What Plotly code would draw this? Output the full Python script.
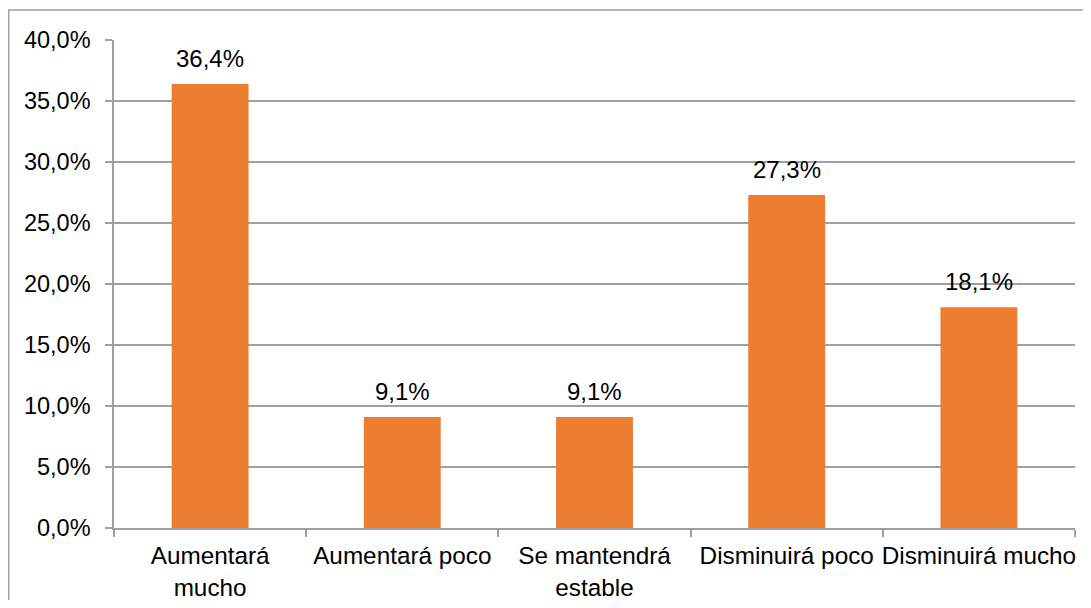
import plotly.graph_objects as go

categorias = ["Aumentará<br>mucho", "Aumentará poco", "Se mantendrá<br>estable",
              "Disminuirá poco", "Disminuirá mucho"]
valores = [0.364, 0.091, 0.091, 0.273, 0.181]

naranja = "#ED7D31"
gris = "#A0A0A0"

fig = go.Figure()
fig.add_trace(go.Bar(x=categorias, y=valores, marker=dict(color=naranja, line=dict(width=0)),
                     width=0.4, showlegend=False))

# etiquetas de datos sobre cada barra
for c, v in zip(categorias, valores):
    fig.add_annotation(x=c, y=v, text=f"{v * 100:.1f}%".replace(".", ","), showarrow=False,
                       yanchor="bottom", yshift=10, font=dict(size=24, color="#000000"))

# la página tiene 8 px de margen en el body
W, H = 1083, 592
l, r, t, b = 106, 16, 32, 72
pw, ph = W - l - r, H - t - b

# marco exterior: solo se ven el borde superior y el izquierdo
bx0 = (0.75 - l) / pw
bx1 = (W - l) / pw
by0 = (H - b - H) / ph
by1 = (H - b - 2) / ph
fig.add_shape(type="path", xref="paper", yref="paper",
              path=f"M {bx0},{by0} L {bx0},{by1} L {bx1},{by1}",
              line=dict(color=gris, width=1.5), layer="below")

fig.update_layout(
    width=W, height=H, margin=dict(l=l, r=r, t=t, b=b, autoexpand=False),
    plot_bgcolor="white", paper_bgcolor="white",
    separators=",.",
    font=dict(family="Liberation Sans, Arial, sans-serif", color="#000000"),
    xaxis=dict(showline=True, linecolor=gris, linewidth=1.5, ticks="outside", tickson="boundaries",
               ticklen=7, tickcolor=gris, tickwidth=1.5, showgrid=False, tickangle=0,
               automargin=False, tickfont=dict(size=24.3), ticklabelstandoff=5),
    yaxis=dict(range=[0, 0.4], dtick=0.05, tickformat=".1%", showline=True, linecolor=gris,
               linewidth=1.5, ticks="outside", ticklen=7, tickcolor=gris, tickwidth=1.5,
               showgrid=True, gridcolor=gris, gridwidth=1.5, zeroline=False, automargin=False,
               tickfont=dict(size=23.5), ticklabelstandoff=10),
)

fig.write_html("out.html")
